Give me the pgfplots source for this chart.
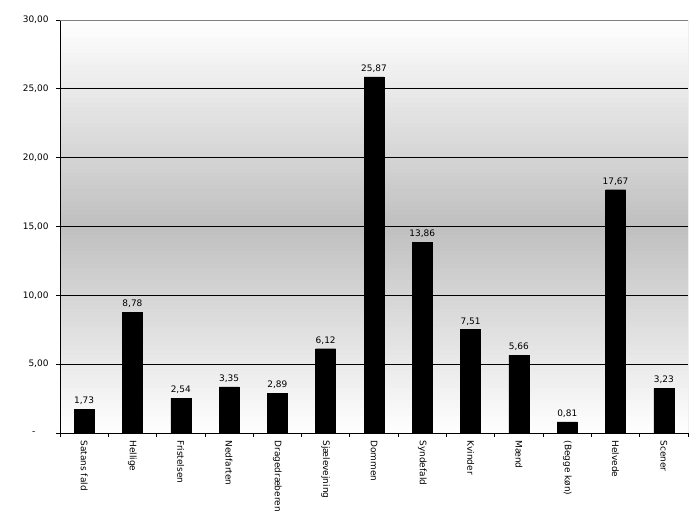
\documentclass[border=0pt]{standalone}
\usepackage{pgfplots}
\pgfplotsset{compat=1.18}
\usepackage{fontspec}
\setmainfont{DejaVu Sans}
\begin{document}
\begin{tikzpicture}[x=1bp,y=1bp]
\path[use as bounding box] (-60bp,-92bp) rectangle (640bp,433bp);
\foreach \i in {0,...,99}{
  \pgfmathsetmacro{\ya}{\i*4.13}
  \pgfmathsetmacro{\yb}{(\i+1)*4.13+0.3}
  \pgfmathsetmacro{\lvl}{1-0.25*(1-abs(2*(\i+0.5)/100-1))}
  \definecolor{stripc}{gray}{\lvl}
  \fill[stripc] (0,\ya) rectangle (628,\yb);
}
\begin{axis}[
  at={(0,0)}, anchor=south west,
  scale only axis, width=628bp, height=413bp,
  font=\fontsize{9}{10}\selectfont,
  /pgf/number format/assume math mode=true,
  xmin=-0.5, xmax=12.5, ymin=0, ymax=30,
  axis x line*=bottom, axis y line*=left,
  axis line style={black, line width=0.8pt},
  xtick={0,...,12},
  xticklabels={Satans fald,Hellige,Fristelsen,Nedfarten,Dragedræberen,Sjælevejning,Dommen,Syndefald,Kvinder,Mænd,(Begge køn),Helvede,Scener},
  xticklabel style={rotate=-90, anchor=west},
  major x tick style={draw=none},
  minor xtick={-0.5,0.5,...,12.5},
  minor x tick style={black, line width=0.8pt},
  ytick={0,5,...,30},
  yticklabels={{-\rule{13bp}{0pt}},{5,00},{10,00},{15,00},{20,00},{25,00},{30,00}},
  y tick style={black, line width=0.8pt},
  tick align=outside,
  major tick length=4bp, minor tick length=4bp,
  ymajorgrids, grid style={black, line width=0.8pt},
  yticklabel style={xshift=-4bp},
  nodes near coords,
  every node near coord/.append style={font=\fontsize{9}{10}\selectfont, yshift=1bp},
  /pgf/number format/.cd, fixed, fixed zerofill, precision=2, use comma,
]
\addplot[ybar, bar width=20bp, fill=black, draw=black] coordinates {
(0,1.73) (1,8.78) (2,2.54) (3,3.35) (4,2.89) (5,6.12) (6,25.87) (7,13.86) (8,7.51) (9,5.66) (10,0.81) (11,17.67) (12,3.23)
};
\draw[gray, line width=0.8pt] (rel axis cs:0,1) -- (rel axis cs:1,1) -- (rel axis cs:1,0);
\end{axis}
\end{tikzpicture}
\end{document}
